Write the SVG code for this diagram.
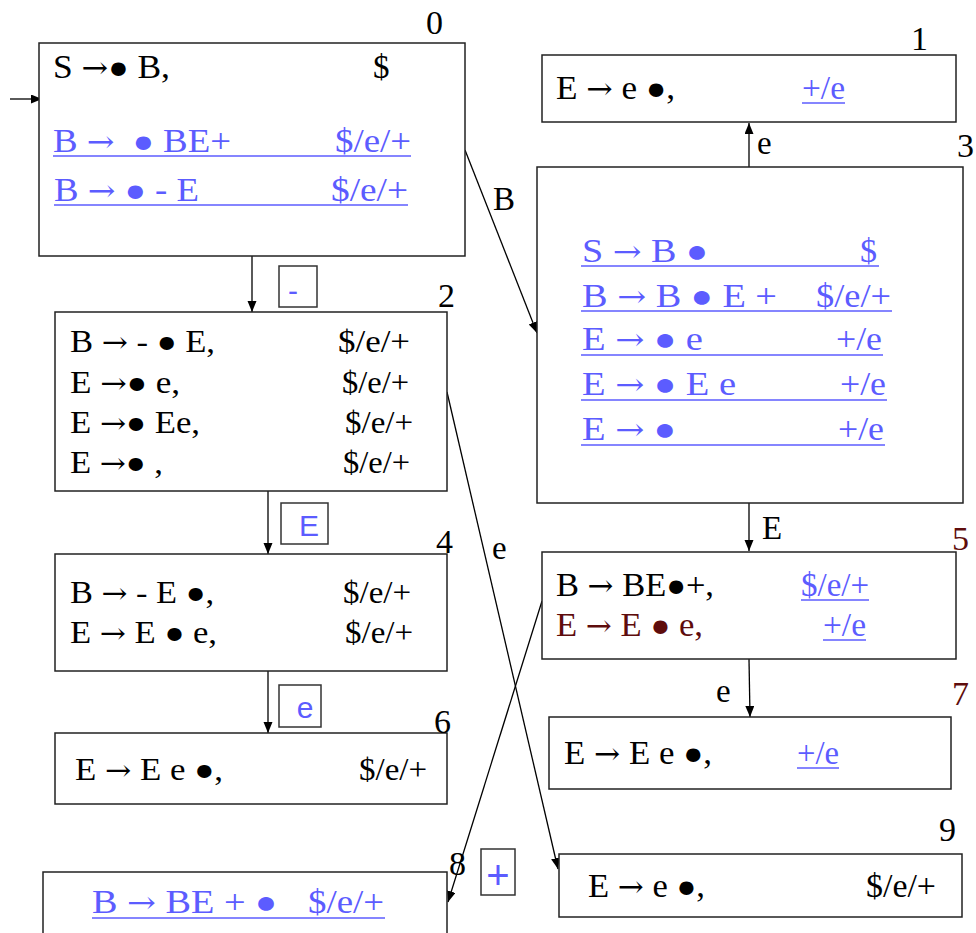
<svg xmlns="http://www.w3.org/2000/svg" width="976" height="933" viewBox="0 0 976 933">
  <defs>
    <marker id="ah" markerUnits="userSpaceOnUse" markerWidth="12" markerHeight="10" refX="11" refY="4.5" orient="auto">
      <path d="M0,0 L11,4.5 L0,9 z" fill="#000"/>
    </marker>
    <style>
      text { font-family: "Liberation Serif", "Times New Roman", serif; fill: #000; }
      .f31 { font-size: 32px; }
      .f33 { font-size: 33px; }
      .f34 { font-size: 34px; }
      .blue { fill: #5c5cff; }
      .red { fill: #5e0c0c; }
      .num { font-size: 34px; }
      .sans { font-family: "Liberation Sans", Arial, sans-serif; fill: #5c5cff; }
      .d { font-size: 0.95em; }
      .a { font-family: "DejaVu Serif", serif; font-size: 0.9em; }
      .box { fill: #fff; stroke: #222; stroke-width: 1.5; }
      .tag { fill: #fff; stroke: #333; stroke-width: 1.5; }
      .ul { stroke: #5c5cff; stroke-width: 1.7; }
      .edge { stroke: #000; stroke-width: 1.3; fill: none; marker-end: url(#ah); }
    </style>
  </defs>

  <!-- transitions between item sets -->
  <g id="connectors">
    <path class="edge" d="M10,99 L42,99"/>
    <path class="edge" d="M252,256 L252,312"/>
    <path class="edge" d="M465,150 L537,333"/>
    <path class="edge" d="M749,167 L749,123"/>
    <path class="edge" d="M268,491 L268,554"/>
    <path class="edge" d="M268,671 L268,733"/>
    <path class="edge" d="M749,503 L749,551"/>
    <path class="edge" d="M749,659 L750,717"/>
    <path class="edge" d="M447,392 L558,869"/>
    <path class="edge" d="M542,601 L448,902"/>

    <text class="f33" x="493" y="210">B</text>
    <text class="f33" x="757" y="154">e</text>
    <text class="f33" x="762" y="539">E</text>
    <text class="f33" x="716" y="702">e</text>
    <text class="f33" x="492" y="559">e</text>

    <rect class="tag" x="279" y="266" width="38" height="41"/>
    <text class="sans" x="293" y="301" font-size="30" text-anchor="middle">-</text>
    <rect class="tag" x="281" y="503" width="47" height="41"/>
    <text class="sans" x="309" y="536" font-size="30" text-anchor="middle">E</text>
    <rect class="tag" x="279" y="685" width="42" height="42"/>
    <text class="sans" x="305" y="718" font-size="30" text-anchor="middle">e</text>
    <rect class="tag" x="481" y="849" width="34" height="46"/>
    <text class="sans" x="498" y="889" font-size="40" text-anchor="middle">+</text>
  </g>

  <!-- state 0 -->
  <g id="state0">
    <rect class="box" x="39" y="43" width="426" height="213"/>
    <text class="num" x="426" y="34">0</text>
    <text class="f33" x="53" y="78" textLength="117" lengthAdjust="spacingAndGlyphs">S <tspan class="a">→</tspan><tspan class="d">●</tspan> B,</text>
    <text class="f33" x="373" y="78">$</text>
    <text class="f33 blue" x="53" y="152" textLength="178" lengthAdjust="spacingAndGlyphs">B <tspan class="a">→</tspan> <tspan class="d" dx="8">●</tspan> BE+</text>
    <text class="f33 blue" x="335" y="152" textLength="76" lengthAdjust="spacingAndGlyphs">$/e/+</text>
    <line class="ul" x1="53" y1="156" x2="411" y2="156"/>
    <text class="f33 blue" x="54" y="201" textLength="145" lengthAdjust="spacingAndGlyphs">B <tspan class="a">→</tspan> <tspan class="d">●</tspan> - E</text>
    <text class="f33 blue" x="331" y="201" textLength="77" lengthAdjust="spacingAndGlyphs">$/e/+</text>
    <line class="ul" x1="54" y1="205" x2="408" y2="205"/>
  </g>

  <!-- state 1 -->
  <g id="state1">
    <rect class="box" x="542" y="55" width="414" height="67"/>
    <text class="num" x="911" y="50">1</text>
    <text class="f33" x="556" y="99" textLength="119" lengthAdjust="spacingAndGlyphs">E <tspan class="a">→</tspan> e <tspan class="d">●</tspan>,</text>
    <text class="f33 blue" x="802" y="99" textLength="43" lengthAdjust="spacingAndGlyphs">+/e</text>
    <line class="ul" x1="802" y1="103" x2="845" y2="103"/>
  </g>

  <!-- state 3 -->
  <g id="state3">
    <rect class="box" x="537" y="167" width="426" height="336"/>
    <text class="num" x="957" y="157">3</text>
    <text class="f34 blue" x="582" y="262" textLength="126" lengthAdjust="spacingAndGlyphs">S <tspan class="a">→</tspan> B <tspan class="d">●</tspan></text>
    <text class="f34 blue" x="860" y="262">$</text>
    <line class="ul" x1="581" y1="266" x2="879" y2="266"/>
    <text class="f34 blue" x="582" y="307" textLength="195" lengthAdjust="spacingAndGlyphs">B <tspan class="a">→</tspan> B <tspan class="d">●</tspan> E +</text>
    <text class="f34 blue" x="816" y="307" textLength="75" lengthAdjust="spacingAndGlyphs">$/e/+</text>
    <line class="ul" x1="581" y1="311" x2="892" y2="311"/>
    <text class="f34 blue" x="582" y="350" textLength="121" lengthAdjust="spacingAndGlyphs">E <tspan class="a">→</tspan> <tspan class="d">●</tspan> e</text>
    <text class="f34 blue" x="836" y="350" textLength="46" lengthAdjust="spacingAndGlyphs">+/e</text>
    <line class="ul" x1="581" y1="355" x2="883" y2="355"/>
    <text class="f34 blue" x="582" y="395" textLength="154" lengthAdjust="spacingAndGlyphs">E <tspan class="a">→</tspan> <tspan class="d">●</tspan> E e</text>
    <text class="f34 blue" x="840" y="395" textLength="46" lengthAdjust="spacingAndGlyphs">+/e</text>
    <line class="ul" x1="581" y1="400" x2="887" y2="400"/>
    <text class="f34 blue" x="582" y="440" textLength="94" lengthAdjust="spacingAndGlyphs">E <tspan class="a">→</tspan> <tspan class="d">●</tspan></text>
    <text class="f34 blue" x="838" y="440" textLength="46" lengthAdjust="spacingAndGlyphs">+/e</text>
    <line class="ul" x1="581" y1="445" x2="885" y2="445"/>
  </g>

  <!-- state 2 -->
  <g id="state2">
    <rect class="box" x="55" y="312" width="392" height="179"/>
    <text class="num" x="438" y="307">2</text>
    <text class="f31" x="70" y="352" textLength="145" lengthAdjust="spacingAndGlyphs">B <tspan class="a">→</tspan> - <tspan class="d">●</tspan> E,</text>
    <text class="f31" x="338" y="352" textLength="72" lengthAdjust="spacingAndGlyphs">$/e/+</text>
    <text class="f31" x="70" y="393" textLength="110" lengthAdjust="spacingAndGlyphs">E <tspan class="a">→</tspan><tspan class="d">●</tspan> e,</text>
    <text class="f31" x="342" y="393" textLength="67" lengthAdjust="spacingAndGlyphs">$/e/+</text>
    <text class="f31" x="70" y="433" textLength="130" lengthAdjust="spacingAndGlyphs">E <tspan class="a">→</tspan><tspan class="d">●</tspan> Ee,</text>
    <text class="f31" x="345" y="433" textLength="68" lengthAdjust="spacingAndGlyphs">$/e/+</text>
    <text class="f31" x="70" y="473" textLength="93" lengthAdjust="spacingAndGlyphs">E <tspan class="a">→</tspan><tspan class="d">●</tspan> ,</text>
    <text class="f31" x="343" y="473" textLength="67" lengthAdjust="spacingAndGlyphs">$/e/+</text>
  </g>

  <!-- state 4 -->
  <g id="state4">
    <rect class="box" x="55" y="554" width="392" height="117"/>
    <text class="num" x="436" y="553">4</text>
    <text class="f31" x="70" y="603" textLength="144" lengthAdjust="spacingAndGlyphs">B <tspan class="a">→</tspan> - E <tspan class="d">●</tspan>,</text>
    <text class="f31" x="343" y="603" textLength="68" lengthAdjust="spacingAndGlyphs">$/e/+</text>
    <text class="f31" x="70" y="643" textLength="147" lengthAdjust="spacingAndGlyphs">E <tspan class="a">→</tspan> E <tspan class="d">●</tspan> e,</text>
    <text class="f31" x="345" y="643" textLength="68" lengthAdjust="spacingAndGlyphs">$/e/+</text>
  </g>

  <!-- state 6 -->
  <g id="state6">
    <rect class="box" x="55" y="733" width="392" height="71"/>
    <text class="num" x="434" y="733">6</text>
    <text class="f31" x="75" y="780" textLength="148" lengthAdjust="spacingAndGlyphs">E <tspan class="a">→</tspan> E e <tspan class="d">●</tspan>,</text>
    <text class="f31" x="359" y="780" textLength="68" lengthAdjust="spacingAndGlyphs">$/e/+</text>
  </g>

  <!-- state 5 -->
  <g id="state5">
    <rect class="box" x="542" y="552" width="414" height="107"/>
    <text class="num red" x="952" y="550">5</text>
    <text class="f33" x="556" y="596" textLength="158" lengthAdjust="spacingAndGlyphs">B <tspan class="a">→</tspan> BE<tspan class="d">●</tspan>+,</text>
    <text class="f33 blue" x="801" y="596" textLength="68" lengthAdjust="spacingAndGlyphs">$/e/+</text>
    <line class="ul" x1="801" y1="600" x2="869" y2="600"/>
    <text class="f33 red" x="556" y="636" textLength="147" lengthAdjust="spacingAndGlyphs">E <tspan class="a">→</tspan> E <tspan class="d">●</tspan> e,</text>
    <text class="f33 blue" x="823" y="636" textLength="43" lengthAdjust="spacingAndGlyphs">+/e</text>
    <line class="ul" x1="823" y1="640" x2="866" y2="640"/>
  </g>

  <!-- state 7 -->
  <g id="state7">
    <rect class="box" x="549" y="717" width="402" height="72"/>
    <text class="num red" x="952" y="705">7</text>
    <text class="f33" x="564" y="764" textLength="148" lengthAdjust="spacingAndGlyphs">E <tspan class="a">→</tspan> E e <tspan class="d">●</tspan>,</text>
    <text class="f33 blue" x="797" y="764" textLength="42" lengthAdjust="spacingAndGlyphs">+/e</text>
    <line class="ul" x1="797" y1="768" x2="839" y2="768"/>
  </g>

  <!-- state 9 -->
  <g id="state9">
    <rect class="box" x="559" y="854" width="403" height="63"/>
    <text class="num" x="939" y="841">9</text>
    <text class="f33" x="588" y="897" textLength="117" lengthAdjust="spacingAndGlyphs">E <tspan class="a">→</tspan> e <tspan class="d">●</tspan>,</text>
    <text class="f33" x="866" y="897" textLength="70" lengthAdjust="spacingAndGlyphs">$/e/+</text>
  </g>

  <!-- state 8 -->
  <g id="state8">
    <rect class="box" x="43" y="872" width="404" height="90"/>
    <text class="num" x="449" y="875">8</text>
    <text class="f34 blue" x="92" y="913" textLength="185" lengthAdjust="spacingAndGlyphs">B <tspan class="a">→</tspan> BE + <tspan class="d">●</tspan></text>
    <text class="f34 blue" x="308" y="913" textLength="76" lengthAdjust="spacingAndGlyphs">$/e/+</text>
    <line class="ul" x1="92" y1="918" x2="385" y2="918"/>
  </g>
</svg>
